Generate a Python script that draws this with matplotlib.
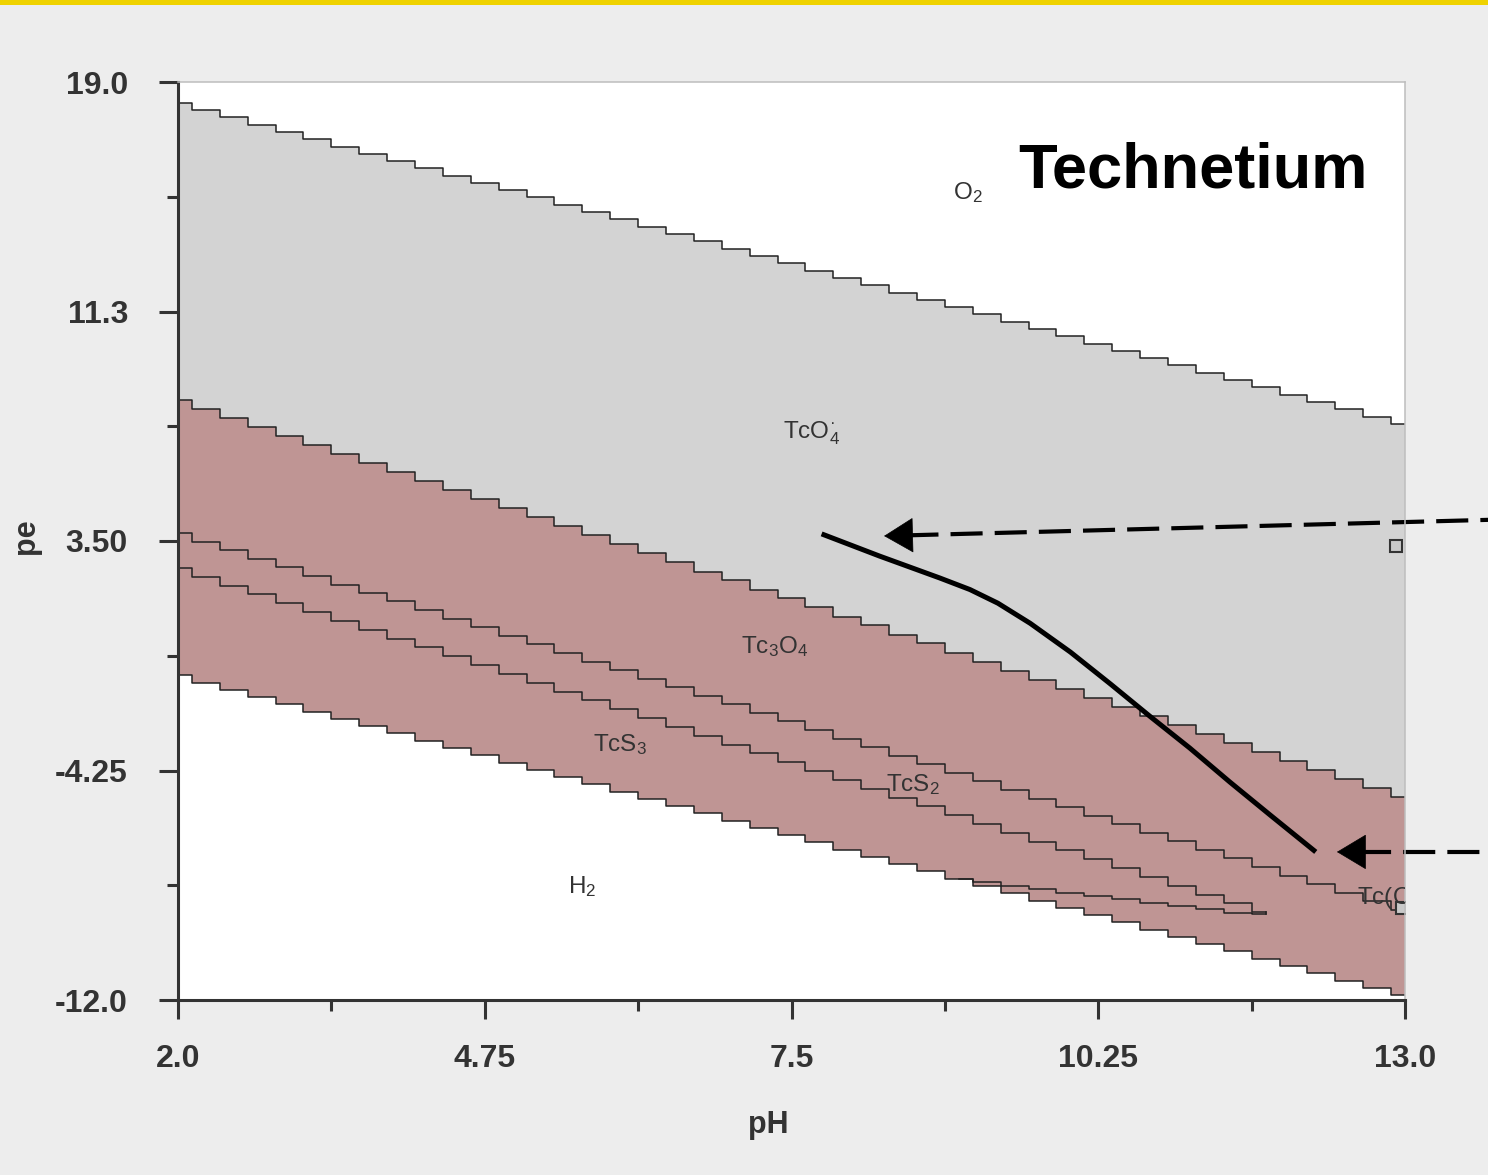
import numpy as np
import matplotlib.pyplot as plt
from matplotlib.patches import Rectangle

plt.rcParams['font.family'] = ['Liberation Sans', 'DejaVu Sans']
plt.rcParams['mathtext.default'] = 'regular'

# pH grid the boundaries were sampled on (drawn as stairs)
ph = [2.0, 2.25, 2.5, 2.75, 3.0, 3.25, 3.5, 3.75, 4.0, 4.25, 4.5, 4.75,
      5.0, 5.25, 5.5, 5.75, 6.0, 6.25, 6.5, 6.75, 7.0, 7.25, 7.5, 7.75,
      8.0, 8.25, 8.5, 8.75, 9.0, 9.25, 9.5, 9.75, 10.0, 10.25, 10.5, 10.75,
      11.0, 11.25, 11.5, 11.75, 12.0, 12.25, 12.5, 12.75, 13.0]

# O2 / TcO4- boundary
pe_o2 = [18.30, 18.05, 17.81, 17.56, 17.31, 17.07, 16.82, 16.57, 16.33, 16.08,
         15.83, 15.59, 15.34, 15.10, 14.85, 14.60, 14.36, 14.11, 13.86, 13.62,
         13.37, 13.12, 12.88, 12.63, 12.38, 12.14, 11.89, 11.64, 11.40, 11.15,
         10.90, 10.66, 10.41, 10.16, 9.92, 9.67, 9.43, 9.18, 8.93, 8.69,
         8.44, 8.19, 7.95, 7.70, 7.45]
# TcO4- / Tc3O4
pe_tco4 = [8.26, 7.96, 7.65, 7.35, 7.04, 6.74, 6.43, 6.13, 5.82, 5.52,
           5.21, 4.91, 4.61, 4.30, 4.00, 3.69, 3.39, 3.08, 2.78, 2.47,
           2.17, 1.86, 1.56, 1.26, 0.95, 0.65, 0.34, 0.04, -0.27, -0.57,
           -0.88, -1.18, -1.49, -1.79, -2.09, -2.40, -2.70, -3.01, -3.31, -3.62,
           -3.92, -4.23, -4.53, -4.84, -5.14]
# Tc3O4 / TcS2
pe_tc3o4 = [3.77, 3.48, 3.19, 2.90, 2.61, 2.32, 2.03, 1.75, 1.46, 1.17,
            0.88, 0.59, 0.30, 0.01, -0.28, -0.57, -0.86, -1.15, -1.44, -1.72,
            -2.01, -2.30, -2.59, -2.88, -3.17, -3.46, -3.75, -4.04, -4.33, -4.62,
            -4.91, -5.20, -5.49, -5.77, -6.06, -6.35, -6.64, -6.93, -7.22, -7.51,
            -7.80, -8.09, -8.38, -8.67, -8.96]
# TcS2 / TcS3 (stops at pH 11.75)
pe_tcs2 = [2.59, 2.29, 1.99, 1.70, 1.40, 1.10, 0.80, 0.50, 0.20, -0.09,
           -0.39, -0.69, -0.99, -1.29, -1.59, -1.88, -2.18, -2.48, -2.78, -3.08,
           -3.38, -3.67, -3.97, -4.27, -4.57, -4.87, -5.17, -5.46, -5.76, -6.06,
           -6.36, -6.66, -6.95, -7.25, -7.55, -7.85, -8.15, -8.45, -8.74, -9.04]
# lower edge of the TcS3 wedge
ph_tcs3 = [9.0, 9.25, 9.5, 9.75, 10.0, 10.25, 10.5, 10.75, 11.0, 11.25, 11.5, 11.75]
pe_tcs3 = [-7.91, -8.02, -8.14, -8.25, -8.37, -8.48, -8.60, -8.71, -8.83, -8.94, -9.06, -9.10]
# solids / H2 boundary
pe_h2 = [-1.03, -1.28, -1.52, -1.77, -2.01, -2.26, -2.50, -2.75, -2.99, -3.24,
         -3.49, -3.73, -3.98, -4.22, -4.47, -4.71, -4.96, -5.21, -5.45, -5.70,
         -5.94, -6.19, -6.43, -6.68, -6.92, -7.17, -7.42, -7.66, -7.91, -8.15,
         -8.40, -8.64, -8.89, -9.14, -9.38, -9.63, -9.87, -10.12, -10.36, -10.61,
         -10.85, -11.10, -11.35, -11.59, -11.84]

# the hand-drawn pathway
path_ph = [7.77, 8.29, 8.83, 9.10, 9.35, 9.64, 10.00, 10.36, 10.71, 11.07, 11.43, 11.79, 12.20]
path_pe = [3.74, 2.99, 2.25, 1.86, 1.40, 0.72, -0.25, -1.33, -2.41, -3.49, -4.64, -5.75, -7.00]

# dashed arrows: (tail pH, tail pe, tip pH, tip pe)
arrows = [(14.0, 4.24, 8.33, 3.67),
          (14.0, -7.00, 12.39, -7.00)]
head_len = 0.2   # pH units the dashes stop short of the tip

species = ['O$_2$', 'TcO$_4^{\u00b7}$', 'Tc$_3$O$_4$', 'TcS$_3$', 'TcS$_2$', 'H$_2$']
species_ph = [9.08, 7.68, 7.35, 5.96, 8.59, 5.62]
species_pe = [15.25, 7.15, -0.08, -3.39, -4.74, -8.18]

box_ph = [12.92, 12.97]
box_pe = [3.33, -8.90]

yticks = [19.0, 11.25, 3.5, -4.25, -12.0]
ytick_labels = ['19.0', '11.3', '3.50', '-4.25', '-12.0']
yticks_minor = [15.125, 7.375, -0.375, -8.125]
xticks = [2.0, 4.75, 7.5, 10.25, 13.0]
xtick_labels = ['2.0', '4.75', '7.5', '10.25', '13.0']
xticks_minor = [3.375, 6.125, 8.875, 11.625]

gray = '#d3d3d3'
rose = '#bf9594'
edge = '#222222'

fig = plt.figure(figsize=(14.88, 11.75), dpi=100)
fig.patch.set_facecolor('#ededed')
fig.add_artist(Rectangle((0, 1 - 5 / 1175), 1, 5 / 1175, transform=fig.transFigure,
                         color='#efd200', lw=0))
ax = fig.add_axes([178 / 1488, 175 / 1175, 1227 / 1488, 918 / 1175])
ax.set_facecolor('white')

ax.fill_between(ph, pe_o2, pe_tco4, step='mid', color=gray, lw=0)
ax.fill_between(ph, pe_tco4, pe_h2, step='mid', color=rose, lw=0)

for y in [pe_o2, pe_tco4, pe_tc3o4, pe_h2]:
    ax.plot(ph, y, drawstyle='steps-mid', color=edge, lw=1.1)
ax.plot(ph[:len(pe_tcs2)], pe_tcs2, drawstyle='steps-mid', color=edge, lw=1.1)
ax.plot(ph_tcs3, pe_tcs3, drawstyle='steps-mid', color=edge, lw=1.1)
ax.plot([ph_tcs3[-1], ph_tcs3[-1]], [pe_tcs2[-1], pe_tcs3[-1]], color=edge, lw=1.1)

ax.plot(box_ph, box_pe, 's', ms=9, mfc='#c9c9c9', mec='#333333', mew=1.5)

for s, x, y in zip(species, species_ph, species_pe):
    ax.text(x, y, s, fontsize=17.5, color='#333333', ha='center', va='center')
ax.text(12.57, -8.56, 'Tc(OH)$_4$', fontsize=17.5, color='#333333', ha='left',
        va='center', clip_on=True)

ax.plot(path_ph, path_pe, color='black', lw=3.6, solid_capstyle='butt')

for x0, y0, x1, y1 in arrows:
    frac = head_len / (x0 - x1)
    xb, yb = x1 + head_len, y1 + (y0 - y1) * frac
    # dashes start at the head so the pattern meets it
    ax.plot([xb, x0], [yb, y0], color='black', lw=3, ls=(0, (7.7, 2.9)),
            dash_capstyle='butt', clip_on=False)
    ax.annotate('', xy=(x1, y1), xytext=(xb + head_len, y1 + (y0 - y1) * 2 * frac),
                annotation_clip=False,
                arrowprops=dict(arrowstyle='-|>,head_length=2.0,head_width=1.2',
                                lw=0.5, color='black', shrinkA=0, shrinkB=0,
                                mutation_scale=10))

ax.text(0.6846, 0.8856, 'Technetium', transform=ax.transAxes, fontsize=45.5,
        fontweight='bold', ha='left', va='baseline', color='black')

ax.set_xlim(2.0, 13.0)
ax.set_ylim(-12.0, 19.0)
ax.set_xticks(xticks)
ax.set_xticklabels(xtick_labels, fontweight='bold')
ax.set_xticks(xticks_minor, minor=True)
ax.set_yticks(yticks)
ax.set_yticklabels(ytick_labels, fontweight='bold')
ax.set_yticks(yticks_minor, minor=True)
ax.tick_params(which='major', length=14, width=2.2, color='#333333',
               labelsize=23, labelcolor='#333333')
ax.tick_params(axis='y', which='major', pad=22)
ax.tick_params(axis='x', which='major', pad=18)
ax.tick_params(which='minor', length=8, width=2.2, color='#333333')

for side in ['left', 'bottom']:
    ax.spines[side].set_linewidth(2.2)
    ax.spines[side].set_color('#333333')
for side in ['top', 'right']:
    ax.spines[side].set_linewidth(1.1)
    ax.spines[side].set_color('#bdbdbd')

ax.set_xlabel('pH', fontsize=22, fontweight='bold', color='#333333')
ax.xaxis.set_label_coords(0.481, -0.12)
ax.set_ylabel('pe', fontsize=22, fontweight='bold', color='#333333')
ax.yaxis.set_label_coords(-0.112, 0.505)

fig.savefig('out.png', dpi=100, facecolor=fig.get_facecolor())
